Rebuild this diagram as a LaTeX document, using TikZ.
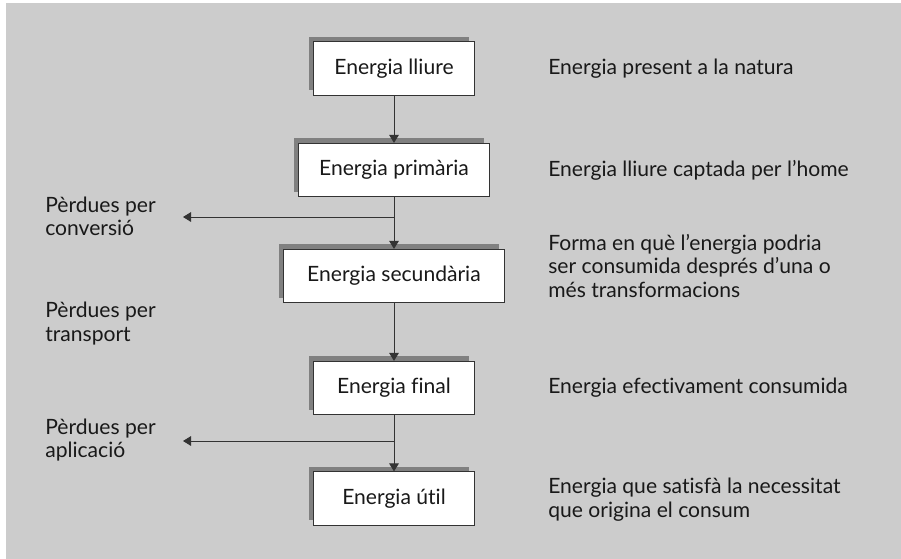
\documentclass[tikz,border=0pt]{standalone}
\usepackage{fontspec}
\setmainfont{Lato}[Ligatures={NoCommon}]
\usetikzlibrary{arrows.meta,shadows}

\begin{document}
\begin{tikzpicture}[x=.025cm,y=-.025cm,
  every node/.style={font=\fontsize{15}{16.7}\selectfont,text=black!90},
  stage/.style={draw=black!80,fill=white,line width=.7pt,minimum width=4cm,
    minimum height=1.33cm,
    general shadow={fill=black!50,shadow xshift=-.125cm,shadow yshift=.125cm}},
  note/.style={anchor=west,align=left,inner sep=0pt},
  link/.style={draw=black!80,line width=.7pt},
  flow/.style={link,-{Triangle[length=.2cm,width=.24cm]}}]
\useasboundingbox (0,0) rectangle (901,559);
\fill[black!20] (6,3) rectangle (901,559);
% chain of energy forms
\node[stage] (lliure) at (394,68.5) {Energia lliure};
\node[stage,minimum width=4.75cm] (primaria) at (394,170) {Energia primària};
\node[stage,minimum width=5.5cm] (secundaria) at (394,276) {Energia secundària};
\node[stage] (final) at (394,388) {Energia final};
\node[stage] (util) at (394,498.5) {Energia útil};
\coordinate (conv) at (394,217); \coordinate (convend) at (183,217);
\coordinate (apl) at (394,441); \coordinate (aplend) at (183,441);
\draw[flow] (lliure) -- (primaria);
\draw[link] (primaria) -- (conv);
\draw[flow] (conv) -- (secundaria);
\draw[flow] (conv) -- (convend);
\draw[flow] (secundaria) -- (final);
\draw[link] (final) -- (apl);
\draw[flow] (apl) -- (util);
\draw[flow] (apl) -- (aplend);
% losses
\node[note] (perdconv) at (45,216.5) {Pèrdues per\\conversió};
\node[note] (perdtrans) at (45,323.5) {Pèrdues per\\transport};
\node[note] (perdapl) at (45,440) {Pèrdues per\\aplicació};
% descriptions
\node[note] (dlliure) at (548,69) {Energia present a la natura};
\node[note] (dprimaria) at (548,170) {Energia lliure captada per l’home};
\node[note] (dsecundaria) at (548,266) {Forma en què l’energia podria\\ser consumida després d’una o\\més transformacions};
\node[note] (dfinal) at (548,388) {Energia efectivament consumida};
\node[note] (dutil) at (548,499.5) {Energia que satisfà la necessitat\\que origina el consum};
\end{tikzpicture}
\end{document}
